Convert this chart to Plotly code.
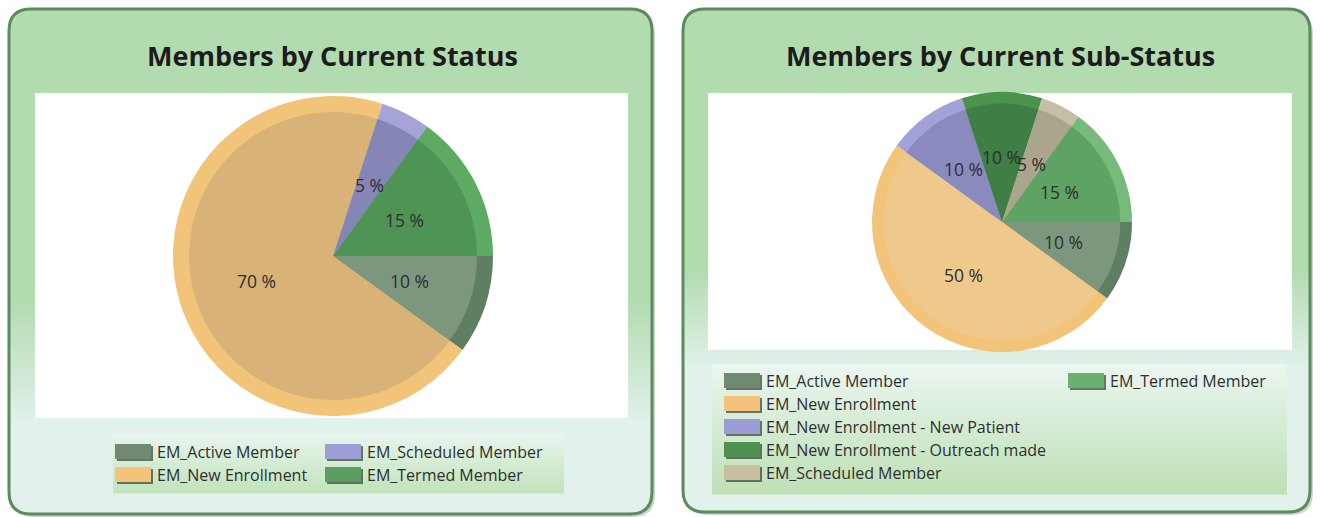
import math
import plotly.graph_objects as go

W, H = 1320, 517

# ---------------- data ----------------
titles = ["Members by Current Status", "Members by Current Sub-Status"]

status_labels = ["EM_Active Member", "EM_New Enrollment", "EM_Scheduled Member", "EM_Termed Member"]
status_values = [10, 70, 5, 15]

substatus_labels = [
    "EM_Active Member",
    "EM_New Enrollment",
    "EM_New Enrollment - New Patient",
    "EM_New Enrollment - Outreach made",
    "EM_Scheduled Member",
    "EM_Termed Member",
]
substatus_values = [10, 50, 10, 10, 5, 15]

# ---------------- styles ----------------
status_rim = ["#5f7f62", "#f2c47a", "#a4a4d8", "#5daa63"]
status_fill = ["#7d977f", "#d8b276", "#8585b6", "#4e9455"]
status_swatch = ["#6f8a70", "#f5c27c", "#9e9ed6", "#5c9e5f"]

sub_rim = ["#5f7f62", "#f2c47a", "#a2a2d8", "#4c924f", "#c6bfa6", "#78ba7c"]
sub_fill = ["#7d977f", "#efc98c", "#8a8abf", "#3f7e44", "#aca58d", "#5fa364"]
sub_swatch = ["#6f8a70", "#f5c27c", "#9c9cd4", "#4e9150", "#c8bea0", "#6cb070"]

FONT = "Open Sans, Noto Sans, DejaVu Sans, sans-serif"


def px(x):
    return x / W


def py(y):
    return 1 - y / H


def rounded_path(x0, y0, x1, y1, r, round_bottom=True):
    p = [f"M {px(x0 + r)},{py(y0)}", f"L {px(x1 - r)},{py(y0)}",
         f"Q {px(x1)},{py(y0)} {px(x1)},{py(y0 + r)}"]
    if round_bottom:
        p += [f"L {px(x1)},{py(y1 - r)}", f"Q {px(x1)},{py(y1)} {px(x1 - r)},{py(y1)}",
              f"L {px(x0 + r)},{py(y1)}", f"Q {px(x0)},{py(y1)} {px(x0)},{py(y1 - r)}"]
    else:
        p += [f"L {px(x1)},{py(y1)}", f"L {px(x0)},{py(y1)}"]
    p += [f"L {px(x0)},{py(y0 + r)}", f"Q {px(x0)},{py(y0)} {px(x0 + r)},{py(y0)}", "Z"]
    return " ".join(p)


def hex2rgb(c):
    c = c.lstrip("#")
    return tuple(int(c[i:i + 2], 16) for i in (0, 2, 4))


def mix(c0, c1, t):
    a, b = hex2rgb(c0), hex2rgb(c1)
    return "rgb({},{},{})".format(*[round(a[i] + (b[i] - a[i]) * t) for i in range(3)])


shapes = []


def rect(x0, y0, x1, y1, color):
    shapes.append(dict(type="rect", xref="paper", yref="paper",
                       x0=px(x0), x1=px(x1), y0=py(y1), y1=py(y0),
                       fillcolor=color, line=dict(width=0), layer="below"))


def bands(x0, y0, x1, y1, c0, c1, n=24):
    step = (y1 - y0) / n
    for i in range(n):
        rect(x0, y0 + i * step, x1, y0 + (i + 1) * step + 0.6, mix(c0, c1, (i + 0.5) / n))


GREEN = "#b3dbb0"
LIGHT = "#e2f1ec"


def panel(x0, y0, x1, y1, fade0, fade1):
    shapes.append(dict(type="path", xref="paper", yref="paper",
                       path=rounded_path(x0 + 3, y0 + 3, x1 + 3, y1 + 3, 22),
                       fillcolor="rgba(120,130,120,0.35)", line=dict(width=0), layer="below"))
    shapes.append(dict(type="path", xref="paper", yref="paper",
                       path=rounded_path(x0, y0, x1, y1, 22),
                       fillcolor=LIGHT, line=dict(width=0), layer="below"))
    shapes.append(dict(type="path", xref="paper", yref="paper",
                       path=rounded_path(x0, y0, x1, fade0, 22, round_bottom=False),
                       fillcolor=GREEN, line=dict(width=0), layer="below"))
    bands(x0 + 1, fade0, x1 - 1, fade1, GREEN, LIGHT)


def border(x0, y0, x1, y1):
    shapes.append(dict(type="path", xref="paper", yref="paper",
                       path=rounded_path(x0, y0, x1, y1, 22),
                       fillcolor="rgba(0,0,0,0)", line=dict(width=3, color="#5a8c5d"),
                       layer="below"))


panel(9, 9, 652, 514, 300, 425)
panel(683, 9, 1310, 512, 270, 370)

rect(35, 93, 628, 418, "white")
rect(708, 93, 1292, 350, "white")

bands(113, 433, 564, 493, "#e9f5ef", "#c0e3ba", n=16)
bands(712, 364, 1287, 494, "#ebf6f0", "#bde0b5", n=24)

border(9, 9, 652, 514)
border(683, 9, 1310, 512)

annotations = []


def legend(labels, colors, cols_x, row0, dy, nrows):
    for i, (lab, col) in enumerate(zip(labels, colors)):
        c, r = divmod(i, nrows)
        x = cols_x[c]
        y = row0 + r * dy
        rect(x + 2, y - 6, x + 38, y + 9, "rgba(60,75,60,0.75)")
        rect(x, y - 8, x + 36, y + 7, col)
        annotations.append(dict(x=px(x + 40), y=py(y), xref="paper", yref="paper",
                                xanchor="left", yanchor="middle", showarrow=False,
                                text=lab, font=dict(family=FONT, size=16, color="#2f2f2f")))


legend(status_labels, status_swatch, [115, 325], 452, 23, 2)
legend(substatus_labels, sub_swatch, [724, 1068], 381, 23, 5)

for t, cx in zip(titles, [332, 1000]):
    annotations.append(dict(x=px(cx), y=py(55), xref="paper", yref="paper",
                            xanchor="center", yanchor="middle", showarrow=False,
                            text=f"<b>{t}</b>",
                            font=dict(family=FONT, size=27, color="#1c1c1c")))


def slice_labels(values, cx, cy, R, frac):
    # data labels at half radius on the bisector of each slice
    # (clockwise from 3 o'clock, matching the pie's direction/rotation)
    total = sum(values)
    cum = 0
    for v in values:
        a = math.radians(360 * (cum + v / 2) / total)
        x = cx + frac * R * math.cos(a)
        y = cy + frac * R * math.sin(a)
        annotations.append(dict(x=px(x), y=py(y), xref="paper", yref="paper",
                                xanchor="center", yanchor="middle", showarrow=False,
                                text=f"{v} %",
                                font=dict(family=FONT, size=17.5, color="#2e2e2e")))
        cum += v


def dom(cx, cy, r):
    return dict(x=[px(cx - r), px(cx + r)], y=[py(cy + r), py(cy - r)])


fig = go.Figure()


def add_pie(labels, values, rim, fill, cx, cy, R, rin):
    fig.add_trace(go.Pie(labels=labels, values=values, sort=False, direction="clockwise",
                         rotation=90, domain=dom(cx, cy, R), textinfo="none",
                         hoverinfo="skip", showlegend=False,
                         marker=dict(colors=rim, line=dict(width=0))))
    fig.add_trace(go.Pie(labels=labels, values=values, sort=False, direction="clockwise",
                         rotation=90, domain=dom(cx, cy, R * rin), showlegend=False,
                         textinfo="none",
                         hovertemplate="%{label}: %{value} %<extra></extra>",
                         marker=dict(colors=fill, line=dict(width=0))))
    slice_labels(values, cx, cy, R, 0.5)


add_pie(status_labels, status_values, status_rim, status_fill, 333, 256, 160, 0.9)
add_pie(substatus_labels, substatus_values, sub_rim, sub_fill, 1002, 222, 130, 0.91)

fig.update_layout(width=W, height=H, margin=dict(l=0, r=0, t=0, b=0),
                  paper_bgcolor="white", plot_bgcolor="white", showlegend=False,
                  shapes=shapes, annotations=annotations)

fig.write_html("out.html")
